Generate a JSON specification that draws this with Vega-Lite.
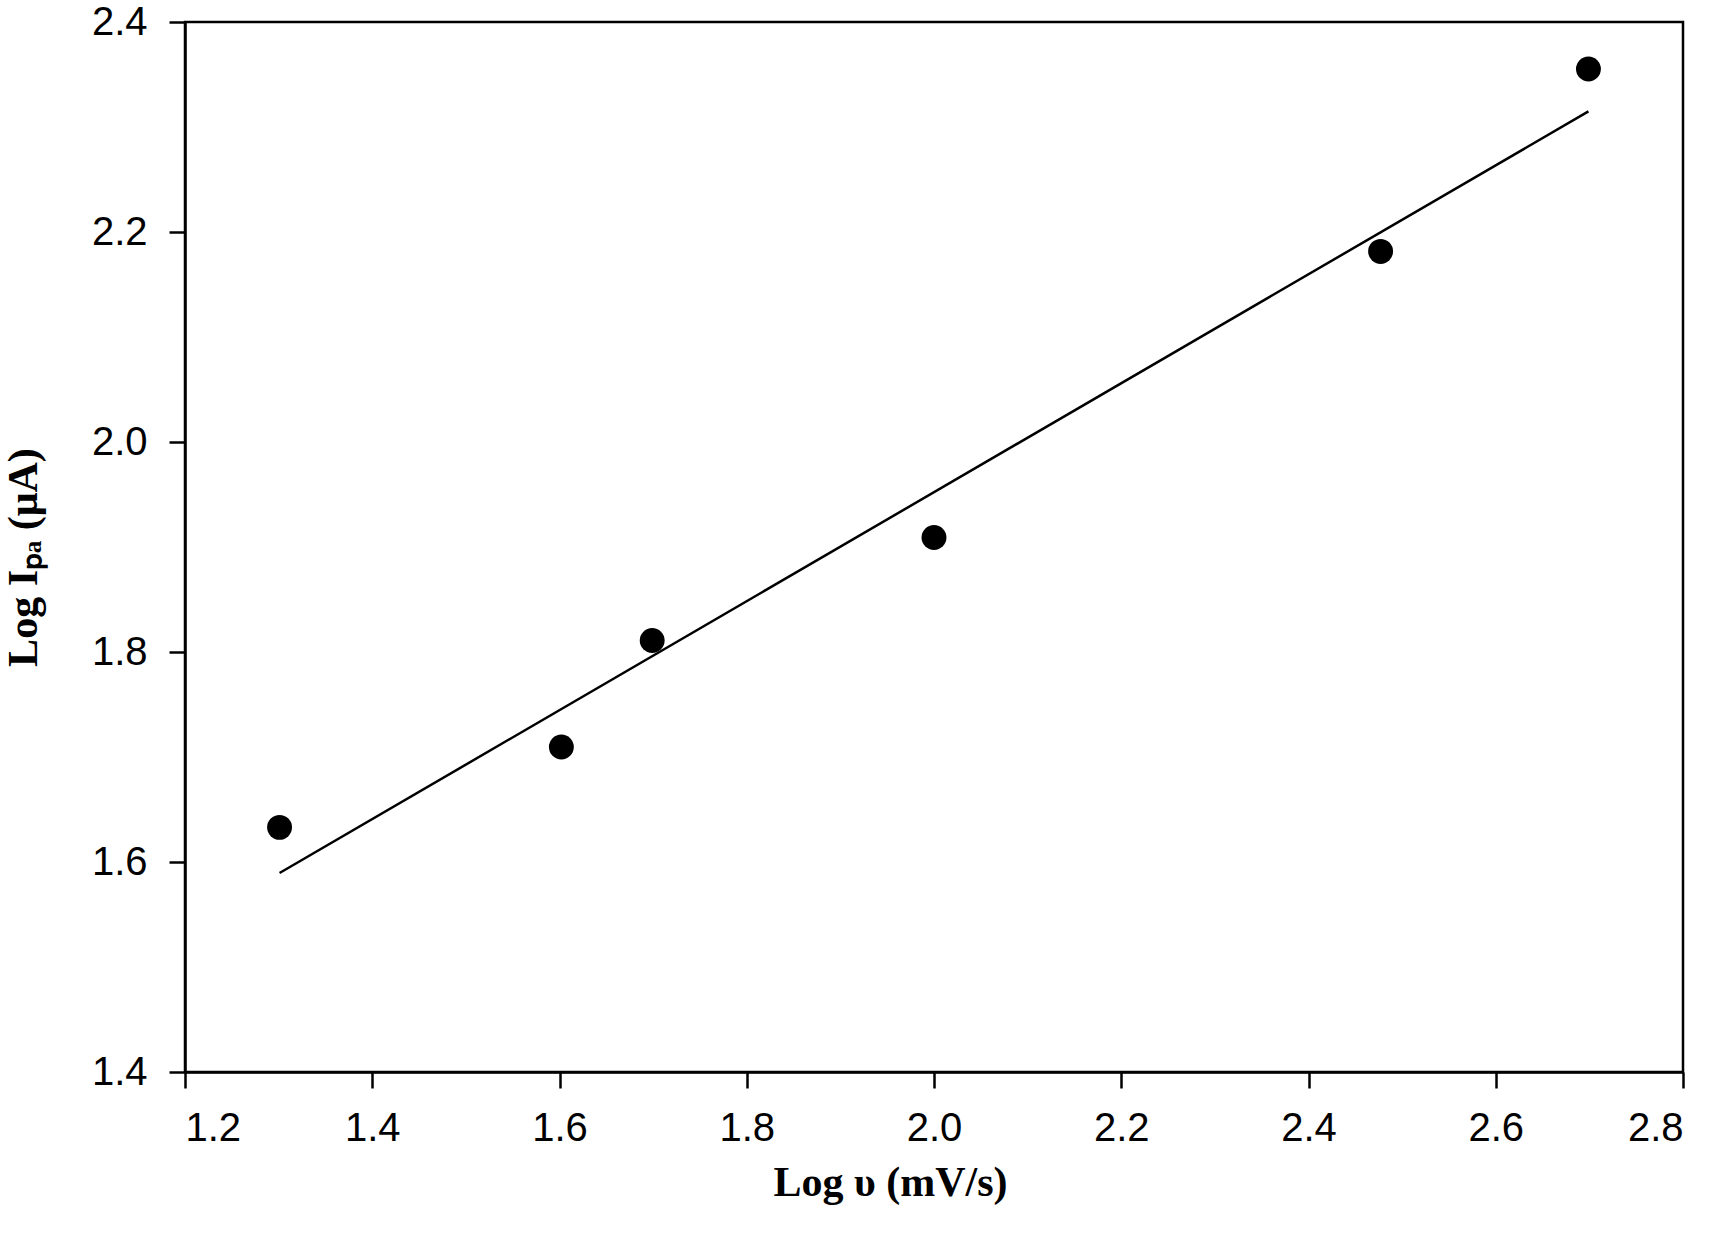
{
  "$schema": "https://vega.github.io/schema/vega-lite/v6.json",
  "autosize": "none",
  "width": 1498,
  "height": 1050,
  "padding": {"left": 185, "top": 22, "right": 33, "bottom": 167},
  "background": "white",
  "config": {
    "view": {"stroke": "black", "strokeWidth": 2.5},
    "axis": {
      "grid": false,
      "domainColor": "black",
      "domainWidth": 2.5,
      "tickColor": "black",
      "tickWidth": 2.5,
      "tickSize": 16,
      "labelFont": "Liberation Sans",
      "labelFontSize": 40,
      "labelColor": "black",
      "titleFont": "Liberation Serif",
      "titleFontWeight": "bold",
      "titleFontSize": 42,
      "titleColor": "black"
    }
  },
  "datasets": {
    "points": [
      {"logv": 1.301, "logI": 1.633},
      {"logv": 1.602, "logI": 1.7095},
      {"logv": 1.699, "logI": 1.811},
      {"logv": 2.0, "logI": 1.909},
      {"logv": 2.477, "logI": 2.1815},
      {"logv": 2.699, "logI": 2.3552}
    ],
    "fit": [
      {"logv": 1.301, "logI": 1.5895},
      {"logv": 2.699, "logI": 2.3149}
    ]
  },
  "layer": [
    {
      "data": {"name": "fit"},
      "mark": {"type": "line", "color": "black", "strokeWidth": 2.5},
      "encoding": {
        "x": {"field": "logv", "type": "quantitative"},
        "y": {"field": "logI", "type": "quantitative"}
      }
    },
    {
      "data": {"name": "points"},
      "mark": {"type": "point", "filled": true, "color": "black", "opacity": 1, "size": 620, "shape": "circle"},
      "encoding": {
        "x": {
          "field": "logv",
          "type": "quantitative",
          "scale": {"domain": [1.2, 2.8], "nice": false, "zero": false},
          "axis": {
            "title": "Log υ (mV/s)",
            "values": [1.2, 1.4, 1.6, 1.8, 2.0, 2.2, 2.4, 2.6, 2.8],
            "format": ".1f",
            "labelPadding": 20,
            "titlePadding": 14,
            "titleX": 705
          }
        },
        "y": {
          "field": "logI",
          "type": "quantitative",
          "scale": {"domain": [1.4, 2.4], "nice": false, "zero": false},
          "axis": {
            "title": "Log Iₚₐ (μA)",
            "values": [1.4, 1.6, 1.8, 2.0, 2.2, 2.4],
            "format": ".1f",
            "labelPadding": 22,
            "titlePadding": 46,
            "titleY": 535
          }
        }
      }
    }
  ]
}
